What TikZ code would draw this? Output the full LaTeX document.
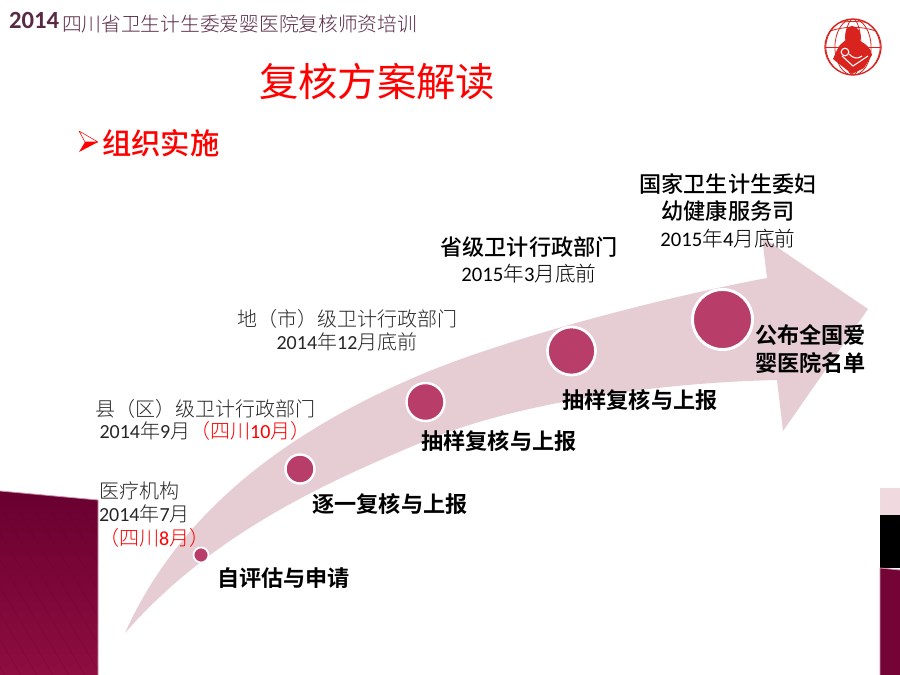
\documentclass[tikz,border=0pt]{standalone}
\usepackage{fontspec}
\setmainfont[BoldFont={Noto Sans CJK SC Bold}]{Noto Sans CJK SC Light}
\newfontfamily\medf{Noto Sans CJK SC Medium}
\newfontfamily\regf{Noto Sans CJK SC}
\newfontfamily\latf{Carlito}
\usetikzlibrary{shadings}
\definecolor{arrowpink}{HTML}{E6CDD4}
\definecolor{dotfill}{HTML}{B93D69}
\definecolor{maroonA}{HTML}{690030}
\definecolor{maroonB}{HTML}{8F0D40}
\definecolor{headtxt}{HTML}{5A2A45}
\definecolor{logored}{HTML}{D8231F}
\definecolor{lightpink}{HTML}{F0D9DF}
\definecolor{graytxt}{HTML}{262626}
\tikzset{
  x=0.75pt,y=-0.75pt,
  txt/.style={inner sep=0pt,outer sep=0pt,align=center},
  dotnode/.style={circle,draw=white,fill=dotfill,inner sep=0pt},
}
\newcommand{\szA}{\fontsize{15}{17}\selectfont}
\newcommand{\szB}{\fontsize{16.6}{21.5}\selectfont\bfseries}
\newcommand{\lat}[1]{{\latf #1}}
\begin{document}
\begin{tikzpicture}
\useasboundingbox (0,0) rectangle (900,675);
\fill[white] (0,0) rectangle (900,675);
% corner blocks
\shade[top color=maroonA,bottom color=maroonB] (0,491) -- (98,500) -- (98,675) -- (0,675) -- cycle;
\begin{scope}
  \clip (0,491) -- (98,500) -- (98,675) -- (0,675) -- cycle;
  \foreach \i in {-60,-56,...,40}
    \draw[maroonA,opacity=.3,line width=.4pt] (\i*4,480) -- (\i*4+120,680);
\end{scope}
\draw[white!55!maroonB,line width=.6pt] (0,491) -- (98,500) -- (98,675);
\fill[lightpink] (880,488) rectangle (900,515);
\fill[black] (880,515) rectangle (900,568);
\fill[maroonA!70!maroonB] (880,568) -- (900,570) -- (900,675) -- (880,675) -- cycle;
\draw[white!55!maroonB,line width=.6pt] (880,675) -- (880,568) -- (900,570);
% big arrow
\fill[arrowpink] (125,633)
  .. controls (180,510) and (290,430) .. (420,375)
  .. controls (500,341) and (650,300) .. (767,278)
  -- (762,237) -- (868,309) -- (783,431) -- (777,380)
  .. controls (680,382) and (525,398) .. (420,443)
  .. controls (335,479) and (215,530) .. (125,633) -- cycle;
% dots
\node[dotnode,line width=1.3pt,minimum size=15pt*0.75] (d1) at (201,555) {};
\node[dotnode,line width=1.8pt,minimum size=29pt*0.75] (d2) at (300,469) {};
\node[dotnode,line width=1.8pt,minimum size=38pt*0.75] (d3) at (425.5,402) {};
\node[dotnode,line width=2pt,minimum size=48pt*0.75] (d4) at (571.5,351) {};
\node[dotnode,line width=2.2pt,minimum size=60pt*0.75] (d5) at (722.5,319.5) {};
% header
\node[txt,anchor=west,text=headtxt,font=\latf\bfseries\fontsize{18.5}{22}\selectfont] (h1) at (9,20) {2014};
\node[txt,anchor=west,text=headtxt,font=\fontsize{14.8}{18}\selectfont] (h2) at (62,24) {四川省卫生计生委爱婴医院复核师资培训};
% title
\node[txt,text=red,font=\regf\fontsize{29.5}{34}\selectfont] (title) at (377,82) {复核方案解读};
\fill[red] (79,152) -- (98,142) -- (85,142) -- cycle;
\draw[red,line width=.4pt,line join=round] (79,131) -- (98,142) -- (85,142) -- cycle;
\node[txt,anchor=west,text=red,font=\medf\fontsize{22}{26}\selectfont] (sub) at (102,143) {组织实施};
% labels above
\node[txt,align=left,anchor=west,font=\fontsize{15}{17.8}\selectfont,text=graytxt] (l1) at (99,514.5) {医疗机构\\\lat{2014}年\lat{7}月\\\textcolor{red}{（四川\lat{8}月）}};
\node[txt,font=\szA,text=graytxt] (l2) at (205,420) {县（区）级卫计行政部门\\\lat{2014}年\lat{9}月\textcolor{red}{（四川\lat{10}月）}};
\node[txt,font=\szA,text=graytxt] (l3) at (347,330.5) {地（市）级卫计行政部门\\\lat{2014}年\lat{12}月底前};
\node[txt,font=\fontsize{16.6}{19}\selectfont,text=black] (l4) at (529,260) {{\medf 省级卫计行政部门}\\\fontsize{15.5}{19}\selectfont \lat{2015}年\lat{3}月底前};
\node[txt,font=\fontsize{16.6}{20}\selectfont,text=black] (l5) at (728,211) {{\medf 国家卫生计生委妇}\\{\medf 幼健康服务司}\\\fontsize{15.5}{18.6}\selectfont \lat{2015}年\lat{4}月底前};
% step captions
\node[txt,font=\szB] (s1) at (283.5,578) {自评估与申请};
\node[txt,font=\szB] (s2) at (390,504) {逐一复核与上报};
\node[txt,font=\szB] (s3) at (499,441) {抽样复核与上报};
\node[txt,font=\szB] (s4) at (640,400) {抽样复核与上报};
\node[txt,font=\szB] (s5) at (810.5,349) {公布全国爱\\婴医院名单};
% logo
\begin{scope}
  \draw[logored,line width=.9pt] (853,47) circle (28);
  \begin{scope}
    \clip (853,47) circle (28);
    \foreach \r in {8,18,27}
      \draw[logored,line width=.6pt] (853,47) ellipse (\r*0.02646cm and 28*0.02646cm);
    \draw[logored,line width=.6pt] (825,47) -- (881,47);
    \draw[logored,line width=.6pt] (830,31) .. controls (845,26) and (861,26) .. (876,31);
    \draw[logored,line width=.6pt] (836,23) .. controls (847,21) and (859,21) .. (870,23);
  \end{scope}
  \fill[logored] (852,26) .. controls (846,26) and (844,33) .. (846,40)
     .. controls (842,43) and (839,45) .. (837,50)
     -- (833,59) -- (852,74) -- (864,68) -- (872,55)
     .. controls (871,48) and (866,44) .. (860,41)
     .. controls (862,33) and (858,26) .. (852,26) -- cycle;
  \draw[white,line width=.8pt] (845,52) circle (3.8);
  \draw[white,line width=.8pt] (849,54) .. controls (854,59) and (858,59) .. (862,56);
  \draw[white,line width=.8pt] (842,56) -- (853,66) -- (868,56);
\end{scope}
\end{tikzpicture}
\end{document}
